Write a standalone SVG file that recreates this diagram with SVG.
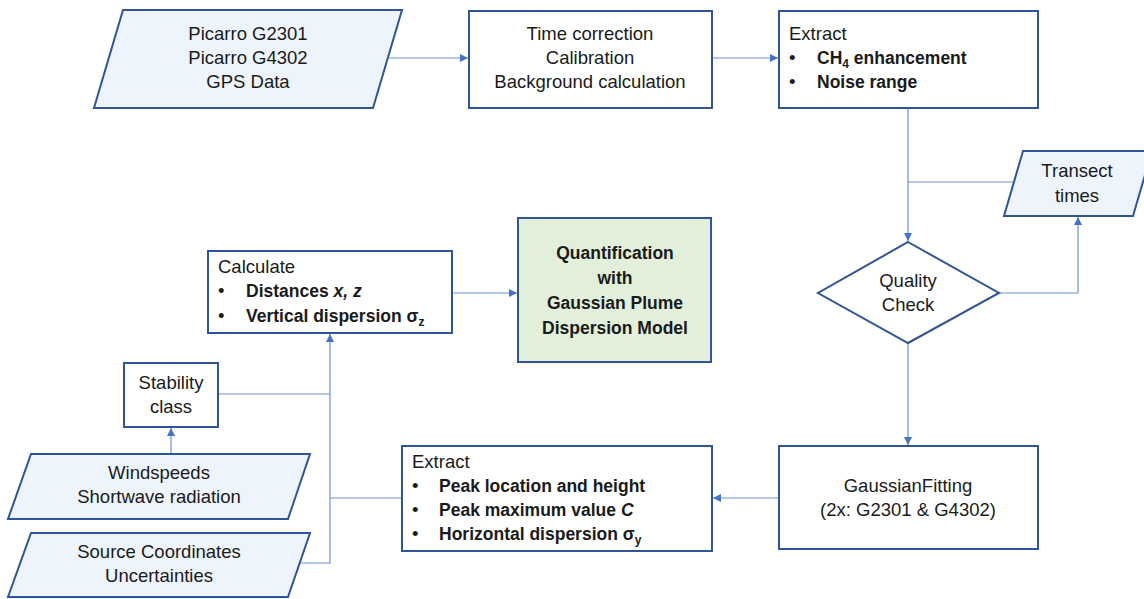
<svg xmlns="http://www.w3.org/2000/svg" width="1144" height="599" viewBox="0 0 1144 599">
<style>
.box{fill:#ffffff;stroke:#2F5597;stroke-width:2}
.io{fill:#EEF4FB;stroke:#2F5597;stroke-width:2}
.green{fill:#E2EFDA;stroke:#2F5597;stroke-width:2}
.t{font-family:"Liberation Sans",Arial,sans-serif;font-size:18.5px;fill:#1a1a1a}
.c{text-anchor:middle}
.b{font-weight:bold;font-size:17.5px}
.con{fill:none;stroke:#6E91D4;stroke-width:1.2}
</style>
<defs>
<marker id="ah" markerUnits="userSpaceOnUse" markerWidth="9" markerHeight="9" refX="8" refY="4" orient="auto">
<path d="M0,0 L8,4 L0,8 z" fill="#4472C4"/>
</marker>
</defs>
<rect width="1144" height="599" fill="#ffffff"/>
<g id="connectors">
<path class="con" d="M389,58 H468" marker-end="url(#ah)"/>
<path class="con" d="M712,58 H778" marker-end="url(#ah)"/>
<path class="con" d="M908,108 V241" marker-end="url(#ah)"/>
<path class="con" d="M1014,182 H908"/>
<path class="con" d="M999,293 H1078 V217" marker-end="url(#ah)"/>
<path class="con" d="M908,343 V445" marker-end="url(#ah)"/>
<path class="con" d="M779,498 H713" marker-end="url(#ah)"/>
<path class="con" d="M452,293 H517" marker-end="url(#ah)"/>
<path class="con" d="M300,563 H330 V334" marker-end="url(#ah)"/>
<path class="con" d="M218,394 H330"/>
<path class="con" d="M402,498 H330"/>
<path class="con" d="M171,454 V428" marker-end="url(#ah)"/>
</g>
<g id="picarro">
<polygon class="io" points="123,10 402,10 373,108 94,108"/>
<text class="t c" x="248" y="40">Picarro G2301</text>
<text class="t c" x="248" y="64">Picarro G4302</text>
<text class="t c" x="248" y="88">GPS Data</text>
</g>
<g id="timecorr">
<rect class="box" x="469" y="11" width="243" height="97"/>
<text class="t c" x="590" y="40">Time correction</text>
<text class="t c" x="590" y="64">Calibration</text>
<text class="t c" x="590" y="88">Background calculation</text>
</g>
<g id="extract1">
<rect class="box" x="779" y="11" width="259" height="97"/>
<text class="t" x="789" y="40">Extract</text>
<text class="t" x="789" y="64">•</text>
<text class="t b" x="817" y="64">CH<tspan font-size="12" dy="4">4</tspan><tspan dy="-4"> enhancement</tspan></text>
<text class="t" x="789" y="88">•</text>
<text class="t b" x="817" y="88">Noise range</text>
</g>
<g id="transect">
<polygon class="io" points="1023,151 1152,151 1133,216 1004,216"/>
<text class="t c" x="1077" y="177">Transect</text>
<text class="t c" x="1077" y="202">times</text>
</g>
<g id="quality">
<polygon class="box" points="908,242 999,293 908,343 818,293"/>
<text class="t c" x="908" y="287">Quality</text>
<text class="t c" x="908" y="311">Check</text>
</g>
<g id="gaussfit">
<rect class="box" x="779" y="446" width="259" height="103"/>
<text class="t c" x="908" y="492">GaussianFitting</text>
<text class="t c" x="908" y="516">(2x: G2301 &amp; G4302)</text>
</g>
<g id="extract2">
<rect class="box" x="402" y="446" width="310" height="105"/>
<text class="t" x="412" y="468">Extract</text>
<text class="t" x="412" y="492">•</text>
<text class="t b" x="439" y="492">Peak location and  height</text>
<text class="t" x="412" y="516">•</text>
<text class="t b" x="439" y="516">Peak maximum  value <tspan font-style="italic">C</tspan></text>
<text class="t" x="412" y="540">•</text>
<text class="t b" x="439" y="540">Horizontal  dispersion σ<tspan font-size="12" dy="4">y</tspan></text>
</g>
<g id="calculate">
<rect class="box" x="208" y="251" width="244" height="82"/>
<text class="t" x="218" y="273">Calculate</text>
<text class="t" x="218" y="297">•</text>
<text class="t b" x="246" y="297">Distances <tspan font-style="italic">x, z</tspan></text>
<text class="t" x="218" y="322">•</text>
<text class="t b" x="246" y="322">Vertical dispersion σ<tspan font-size="12" dy="4">z</tspan></text>
</g>
<g id="quant">
<rect class="green" x="518" y="218" width="193" height="144"/>
<text class="t c b" x="615" y="259">Quantification</text>
<text class="t c b" x="615" y="284">with</text>
<text class="t c b" x="615" y="309">Gaussian  Plume</text>
<text class="t c b" x="615" y="334">Dispersion  Model</text>
</g>
<g id="stability">
<rect class="box" x="124" y="363" width="94" height="64"/>
<text class="t c" x="171" y="389">Stability</text>
<text class="t c" x="171" y="413">class</text>
</g>
<g id="windspeeds">
<polygon class="io" points="31,454 310,454 288,519 8,519"/>
<text class="t c" x="159" y="479">Windspeeds</text>
<text class="t c" x="159" y="503">Shortwave radiation</text>
</g>
<g id="source">
<polygon class="io" points="31,533 310,533 288,597 8,597"/>
<text class="t c" x="159" y="558">Source Coordinates</text>
<text class="t c" x="159" y="582">Uncertainties</text>
</g>
</svg>
